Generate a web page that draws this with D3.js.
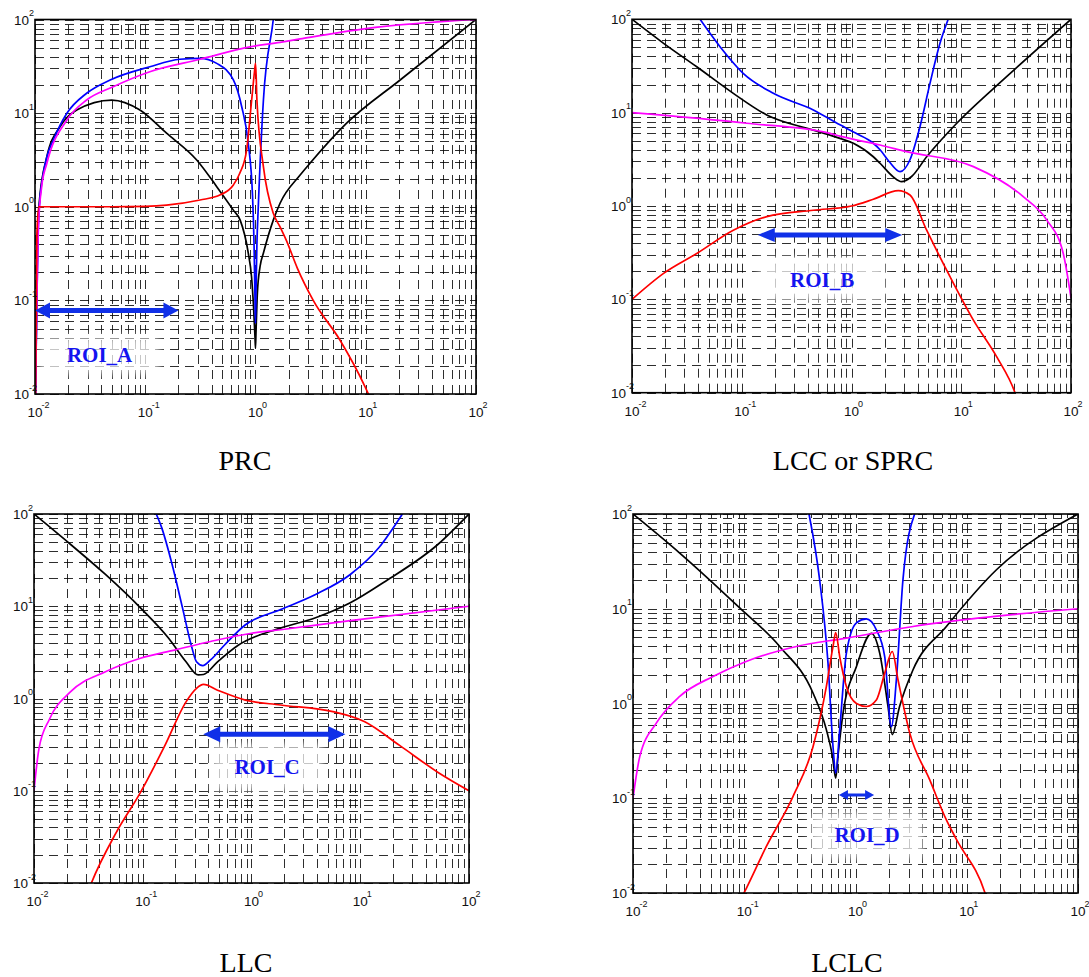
<!DOCTYPE html>
<html>
<head>
<meta charset="utf-8">
<script src="https://cdnjs.cloudflare.com/ajax/libs/d3/7.8.5/d3.min.js"></script>
<style>
  body { margin: 0; background: #fff; }
  svg { display: block; }
</style>
</head>
<body>
<div id="chart"></div>
<script>
// axis decades (same for all four plots)
const decades = [0.01, 0.1, 1, 10, 100];
const decadeExp = ["-2", "-1", "0", "1", "2"];
const titles = ["PRC", "LCC or SPRC", "LLC", "LCLC"];
const roiNames = ["ROI_A", "ROI_B", "ROI_C", "ROI_D"];
// ROI arrows: x range and level
const roiFrom = [0.01, 0.14, 0.36, 0.71];
const roiTo = [0.2, 2.9, 7.3, 1.47];
const roiLevel = [0.078, 0.49, 0.41, 0.108];

// PRC
const prcBlack = [[0.0101,0.01],[0.0105,0.3],[0.011,1.2],[0.0128,3.4],[0.0169,7.2],[0.0239,10.8],[0.0497,13.8],[0.0895,10.8],[0.156,6.1],[0.293,3.16],[0.445,1.64],[0.63,0.92],[0.726,0.72],[0.86,0.32],[0.92,0.18],[0.96,0.085],[0.99,0.04],[1.0,0.031],[1.01,0.045],[1.04,0.12],[1.1,0.23],[1.18,0.32],[1.45,0.72],[1.67,1.09],[2.54,2.18],[3.12,2.91],[6.71,7.8],[20.5,22.6],[100,100]];
const prcBlue = [[0.0101,0.01],[0.0104,0.1],[0.0108,0.8],[0.0119,2.27],[0.0128,3.4],[0.0147,5.2],[0.0194,9.9],[0.0294,16.3],[0.048,22.6],[0.11,31.3],[0.206,37.6],[0.314,38.5],[0.445,34],[0.63,22.6],[0.75,11.7],[0.86,4.75],[0.94,1.3],[0.97,0.4],[0.99,0.1],[1.0,0.057],[1.01,0.12],[1.03,0.4],[1.06,1.0],[1.18,13.8],[1.45,100],[1.6,300]];
const prcRed = [[0.0101,0.01],[0.0104,0.5],[0.0108,1.0],[0.02,1.0],[0.05,1.0],[0.1,1.01],[0.156,1.04],[0.314,1.18],[0.48,1.34],[0.63,1.71],[0.72,2.28],[0.83,4.0],[0.923,13.8],[0.98,28],[1.0,34],[1.015,24],[1.03,13.8],[1.18,2.67],[1.45,0.85],[1.67,0.61],[1.9,0.44],[2.4,0.22],[3.34,0.1],[5.83,0.0377],[9.84,0.012],[11,0.009]];
const prcMagenta = [[0.0101,0.01],[0.0104,0.1],[0.0108,0.7],[0.0115,1.64],[0.0128,2.9],[0.0194,8.4],[0.0294,13.8],[0.05,18.9],[0.11,27.7],[0.314,37.6],[0.89,51],[1.67,57],[2.54,62],[10,80],[100,100]];

// LCC or SPRC
const lccBlack = [[0.01,100],[0.0194,55.3],[0.0389,31],[0.0838,16.1],[0.169,9.44],[0.449,6.5],[0.785,5.3],[1.04,4.7],[1.58,3.37],[1.82,2.87],[2.4,2.05],[2.86,1.82],[3.53,2.07],[4.84,3.37],[9.1,7.7],[25.9,24.3],[100,100]];
const lccBlue = [[0.0417,100],[0.0634,50.9],[0.103,26.4],[0.194,16.1],[0.449,10.7],[0.785,7.4],[1.1,6.0],[1.58,4.7],[1.82,4.0],[2.2,3.0],[2.77,2.33],[3.41,3.13],[4.21,7.1],[5.19,20.6],[6.4,55.3],[7.6,100]];
const lccRed = [[0.01,0.1],[0.0194,0.19],[0.0389,0.31],[0.0838,0.55],[0.169,0.77],[0.449,0.9],[1.0,1.0],[1.58,1.18],[2.67,1.46],[3.41,1.31],[4.84,0.55],[7.9,0.175],[12.9,0.06],[21,0.0243],[30.9,0.01],[33,0.008]];
const lccMagenta = [[0.01,10],[0.111,7.7],[0.637,6.0],[0.785,5.6],[1.82,4.5],[3.18,3.82],[12.9,2.64],[36.7,1.26],[60,0.71],[85,0.31],[100,0.103]];

// LLC
const llcBlack = [[0.01,100],[0.0216,47],[0.0454,22.1],[0.0953,9.6],[0.173,4.5],[0.25,2.5],[0.324,1.8],[0.362,1.82],[0.487,2.5],[0.76,3.8],[1.85,5.8],[3.88,7.5],[8.1,10.9],[17.1,18.7],[52,47],[100,100]];
const llcBlue = [[0.133,100],[0.149,71.6],[0.186,28.5],[0.232,9.6],[0.279,3.8],[0.312,2.5],[0.357,2.27],[0.42,2.62],[0.565,3.8],[0.88,6.3],[1.85,9.2],[3.88,13.4],[8.1,22.1],[14.8,43],[24.4,100]];
const llcRed = [[0.03,0.007],[0.0337,0.01],[0.0568,0.035],[0.0953,0.096],[0.16,0.31],[0.25,0.92],[0.312,1.29],[0.362,1.42],[0.487,1.23],[0.88,0.96],[1.85,0.85],[5.6,0.72],[11,0.56],[23,0.31],[52,0.158],[100,0.1]];
const llcMagenta = [[0.01,0.1],[0.0111,0.285],[0.0139,0.6],[0.0216,1.18],[0.0454,1.95],[0.0953,2.73],[0.2,3.37],[0.42,4.15],[1,5.1],[1.85,5.56],[8.1,7.0],[100,10]];

// LCLC
const lclcBlack = [[0.01,100],[0.0263,38.7],[0.091,10.2],[0.208,4.0],[0.415,1.29],[0.547,0.53],[0.62,0.28],[0.664,0.163],[0.7,0.3],[0.773,0.79],[1.02,2.46],[1.39,5.5],[1.65,3.4],[1.96,0.93],[2.14,0.47],[2.49,0.93],[3.29,2.27],[6.56,6.5],[18.5,25.8],[100,100]];
const lclcBlue = [[0.382,100],[0.476,20.2],[0.566,2.67],[0.628,0.35],[0.664,0.184],[0.721,0.53],[0.828,3.4],[1.02,7.1],[1.25,7.8],[1.54,6.0],[1.83,3.13],[2.1,0.57],[2.33,1.78],[2.67,20.2],[3.4,100]];
const lclcRed = [[0.095,0.009],[0.0995,0.01],[0.158,0.031],[0.274,0.104],[0.415,0.35],[0.547,1.51],[0.628,4.0],[0.664,5.6],[0.721,3.13],[0.828,1.51],[1.02,1.0],[1.25,0.93],[1.54,1.09],[1.83,2.09],[2.14,3.54],[2.41,1.78],[3.07,0.49],[4.65,0.156],[6.56,0.059],[8.1,0.0365],[14.6,0.01],[15.5,0.008]];
const lclcMagenta = [[0.01,0.1],[0.0115,0.275],[0.0162,0.62],[0.0263,1.19],[0.0524,1.93],[0.104,2.78],[0.294,4.0],[0.828,4.9],[3.29,6.5],[13.1,8.0],[100,10]];

const colors = ["#000000", "#0000ff", "#ff00ff", "#ff0000"];

// layout of the four plots
const panels = [
  {box: {x0: 35, x1: 476, y0: 19.5, y1: 394}, titleX: 245, titleY: 470,
   series: [prcBlack, prcBlue, prcMagenta, prcRed],
   arrow: {w: 5, head: 15, half: 8}, label: {x: 0.0385, y: 0.026, w: 120, h: 38}},
  {box: {x0: 632, x1: 1071, y0: 19.3, y1: 392.7}, titleX: 853, titleY: 470,
   series: [lccBlack, lccBlue, lccMagenta, lccRed],
   arrow: {w: 5, head: 17, half: 7}, label: {x: 0.54, y: 0.163, w: 126, h: 44}},
  {box: {x0: 34, x1: 469, y0: 514, y1: 883}, titleX: 246, titleY: 972,
   series: [llcBlack, llcBlue, llcMagenta, llcRed],
   arrow: {w: 5, head: 17, half: 8}, label: {x: 1.39, y: 0.181, w: 112, h: 48}},
  {box: {x0: 633, x1: 1078, y0: 514, y1: 893}, titleX: 847, titleY: 972,
   series: [lclcBlack, lclcBlue, lclcMagenta, lclcRed],
   arrow: {w: 3, head: 9, half: 5}, label: {x: 1.27, y: 0.041, w: 114, h: 48}}
];

const svg = d3.select("#chart").append("svg")
  .attr("width", 1089)
  .attr("height", 977);

const defs = svg.append("defs");
defs.append("filter").attr("id", "soft")
  .attr("x", "-20%").attr("y", "-30%").attr("width", "140%").attr("height", "160%")
  .append("feGaussianBlur").attr("stdDeviation", 4);

// grid values: 1..9 in every decade
const gridVals = [];
for (let k = -2; k < 2; k++) {
  for (let m = 1; m <= 9; m++) gridVals.push(m * Math.pow(10, k));
}
gridVals.push(100);

panels.forEach((p, i) => {
  const b = p.box;
  const x = d3.scaleLog().domain([0.01, 100]).range([b.x0, b.x1]);
  const y = d3.scaleLog().domain([0.01, 100]).range([b.y1, b.y0]);
  const g = svg.append("g");

  defs.append("clipPath").attr("id", "clip" + i)
    .append("rect")
    .attr("x", b.x0).attr("y", b.y0)
    .attr("width", b.x1 - b.x0).attr("height", b.y1 - b.y0);

  // grid
  const grid = g.append("g")
    .attr("stroke", "#000")
    .attr("stroke-opacity", 0.82)
    .attr("stroke-width", 1)
    .attr("stroke-dasharray", "9,6");

  grid.selectAll(".h")
    .data(gridVals)
    .enter()
    .append("line")
    .attr("x1", b.x0).attr("x2", b.x1)
    .attr("y1", d => Math.round(y(d)) + 0.5)
    .attr("y2", d => Math.round(y(d)) + 0.5);

  grid.selectAll(".v")
    .data(gridVals)
    .enter()
    .append("line")
    .attr("y1", b.y1).attr("y2", b.y0)
    .attr("x1", d => Math.round(x(d)) + 0.5)
    .attr("x2", d => Math.round(x(d)) + 0.5);

  // faded box behind ROI label
  const lx = x(p.label.x), ly = y(p.label.y);
  g.append("rect")
    .attr("x", lx - p.label.w / 2)
    .attr("y", ly - p.label.h / 2)
    .attr("width", p.label.w)
    .attr("height", p.label.h)
    .attr("fill", "#fff")
    .attr("opacity", 0.72)
    .attr("filter", "url(#soft)");

  // curves
  const line = d3.line()
    .x(d => x(d[0]))
    .y(d => y(d[1]))
    .curve(d3.curveMonotoneX);

  g.append("g")
    .attr("clip-path", `url(#clip${i})`)
    .selectAll("path")
    .data(p.series)
    .enter()
    .append("path")
    .attr("d", line)
    .attr("fill", "none")
    .attr("stroke", (d, j) => colors[j])
    .attr("stroke-width", 1.7)
    .attr("stroke-linejoin", "round");

  // ROI double arrow
  const ax0 = x(roiFrom[i]), ax1 = x(roiTo[i]), ay = y(roiLevel[i]);
  const a = p.arrow;
  const path = d3.path();
  path.moveTo(ax0, ay);
  path.lineTo(ax0 + a.head, ay - a.half);
  path.lineTo(ax0 + a.head, ay - a.w / 2);
  path.lineTo(ax1 - a.head, ay - a.w / 2);
  path.lineTo(ax1 - a.head, ay - a.half);
  path.lineTo(ax1, ay);
  path.lineTo(ax1 - a.head, ay + a.half);
  path.lineTo(ax1 - a.head, ay + a.w / 2);
  path.lineTo(ax0 + a.head, ay + a.w / 2);
  path.lineTo(ax0 + a.head, ay + a.half);
  path.closePath();
  g.append("path")
    .attr("d", path.toString())
    .attr("fill", "#1030e8");

  g.append("text")
    .attr("x", lx)
    .attr("y", ly + 7)
    .attr("text-anchor", "middle")
    .attr("font-family", "'Liberation Serif', 'Times New Roman', serif")
    .attr("font-weight", "bold")
    .attr("font-size", "21px")
    .attr("fill", "#1414f0")
    .text(roiNames[i]);

  // frame
  g.append("rect")
    .attr("x", b.x0).attr("y", b.y0)
    .attr("width", b.x1 - b.x0).attr("height", b.y1 - b.y0)
    .attr("fill", "none")
    .attr("stroke", "#000")
    .attr("stroke-width", 1.6);

  // tick labels 10^k
  const tickFont = "'Liberation Sans', Arial, sans-serif";
  const xl = g.append("g").attr("font-family", tickFont).attr("fill", "#111");
  decades.forEach((d, k) => {
    xl.append("text")
      .attr("x", x(d)).attr("y", b.y1 + 23)
      .attr("text-anchor", "middle")
      .attr("font-size", "13.5px")
      .text("10");
    xl.append("text")
      .attr("x", x(d) + 6.5).attr("y", b.y1 + 14)
      .attr("font-size", "9px")
      .text(decadeExp[k]);
    xl.append("text")
      .attr("x", b.x0 - 6).attr("y", y(d) + 5)
      .attr("text-anchor", "end")
      .attr("font-size", "13.5px")
      .text("10");
    xl.append("text")
      .attr("x", b.x0 - 6).attr("y", y(d) - 3.5)
      .attr("font-size", "9px")
      .text(decadeExp[k]);
  });

  // title
  g.append("text")
    .attr("x", p.titleX)
    .attr("y", p.titleY)
    .attr("text-anchor", "middle")
    .attr("font-family", "'Liberation Serif', 'Times New Roman', serif")
    .attr("font-size", "28px")
    .attr("fill", "#000")
    .text(titles[i]);
});
</script>
</body>
</html>
